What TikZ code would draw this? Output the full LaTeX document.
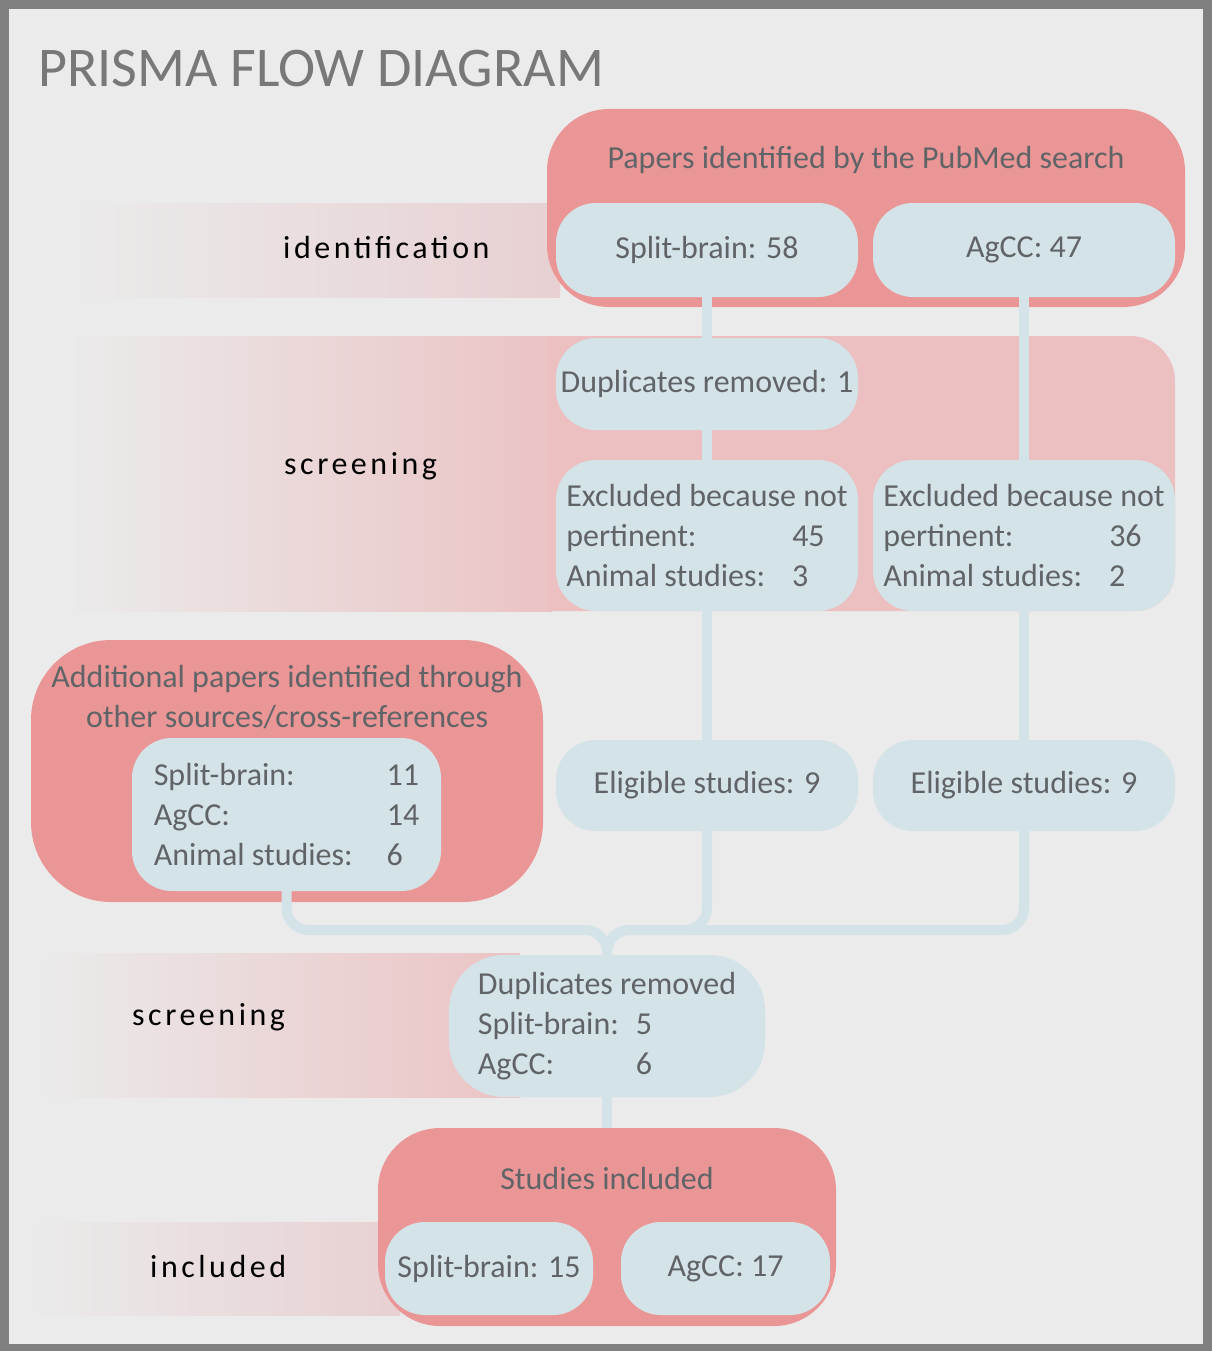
\documentclass[tikz,border=0pt]{standalone}
\usepackage{fontspec}
\setmainfont{Carlito}
\newfontfamily\stagefont[LetterSpace=11]{Carlito}
\definecolor{bgc}{HTML}{EBEBEB}
\definecolor{framec}{HTML}{808080}
\definecolor{redc}{HTML}{EB9696}
\definecolor{bluec}{HTML}{D3E3E8}
\definecolor{bandc}{HTML}{ECC0C1}
\definecolor{fadec}{HTML}{EBC3C4}
\definecolor{fadelt}{HTML}{E8D0D2}
\definecolor{txtc}{HTML}{616467}
\definecolor{titlec}{HTML}{787878}
\newcommand\boxfont{\fontsize{32}{40}\selectfont}
\begin{document}
\begin{tikzpicture}[x=1pt,y=-1pt,
  redbox/.style={fill=redc, rounded corners=62pt, inner sep=0pt},
  bluebox/.style={fill=bluec, rounded corners=40pt, inner sep=0pt, text=txtc, font=\boxfont, align=left},
  redtitle/.style={inner sep=0pt, text=txtc, font=\boxfont, align=center},
  stagelabel/.style={anchor=base west, inner sep=0pt, text=black, font=\fontsize{32}{40}\stagefont},
  conn/.style={draw=bluec, line width=10pt}
]
\useasboundingbox (0,0) rectangle (1212,1351);
\fill[framec] (0,0) rectangle (1212,1351);
\fill[bgc] (9,9) rectangle (1203,1344);

% stage bands
\shade[left color=bgc, right color=fadelt] (70,203) rectangle (560,297);
\shade[left color=bgc, right color=fadec] (70,336) rectangle (552,611);
\fill[bandc] (550,336) -- (1130,336) .. controls (1155,336) and (1175,356) .. (1175,381)
  -- (1175,571) .. controls (1175,593) and (1157,611) .. (1135,611) -- (550,611) -- cycle;
\shade[left color=bgc, right color=fadec] (40,953) rectangle (520,1097);
\shade[left color=bgc, right color=fadelt] (30,1222) rectangle (400,1315);

% containers
\node[redbox, minimum width=638pt, minimum height=198pt] (pubmed) at (866,208) {};
\node[redbox, rounded corners=80pt, minimum width=512pt, minimum height=262pt] (addl) at (287,771) {};
\node[redbox, minimum width=458pt, minimum height=198pt] (incl) at (607,1227) {};

% title
\node[anchor=base west, inner sep=0pt, text=titlec, font=\fontsize{56}{60}\selectfont] (title) at (38,87) {PRISMA FLOW DIAGRAM};

% container titles
\node[redtitle] (pubmedt) at (866,160) {Papers identified by the PubMed search};
\node[redtitle] (addlt) at (287,697) {Additional papers identified through\\other sources/cross-references};
\node[redtitle] (inclt) at (607,1178) {Studies included};

% stage labels
\node[stagelabel] (lid) at (283,258) {identification};
\node[stagelabel] (lscr) at (284,474) {screening};
\node[stagelabel] (lscr2) at (132,1025) {screening};
\node[stagelabel] (linc) at (150,1277) {included};

% boxes
\node[bluebox, minimum width=302pt, minimum height=94pt] (sb58) at (707,250) {Split-brain: 58};
\node[bluebox, minimum width=302pt, minimum height=94pt] (ag47) at (1024,250) {AgCC: 47};
\node[bluebox, minimum width=302pt, minimum height=92pt] (dup1) at (707,384) {Duplicates removed: 1};
\node[bluebox, minimum width=302pt, minimum height=151pt] (ex1) at (707,535.5)
  {Excluded because not\\\makebox[226pt][l]{pertinent:}45\\\makebox[226pt][l]{Animal studies:}3};
\node[bluebox, minimum width=302pt, minimum height=151pt] (ex2) at (1024,535.5)
  {Excluded because not\\\makebox[226pt][l]{pertinent:}36\\\makebox[226pt][l]{Animal studies:}2};
\node[bluebox, minimum width=302pt, minimum height=91pt] (el1) at (707,785.5) {Eligible studies: 9};
\node[bluebox, minimum width=302pt, minimum height=91pt] (el2) at (1024,785.5) {Eligible studies: 9};
\node[bluebox, minimum width=309pt, minimum height=153pt] (addin) at (286.5,814.5)
  {\makebox[233pt][l]{Split-brain:}11\\\makebox[233pt][l]{AgCC:}14\\\makebox[233pt][l]{Animal studies:}6};
\node[bluebox, rounded corners=55pt, minimum width=316pt, minimum height=142pt] (dup2) at (607,1026)
  {Duplicates removed\\\makebox[158pt][l]{Split-brain:}5\\\makebox[158pt][l]{AgCC:}6};
\node[bluebox, minimum width=208pt, minimum height=93pt] (sb15) at (489,1268.5) {Split-brain: 15};
\node[bluebox, minimum width=209pt, minimum height=93pt] (ag17) at (725.5,1268.5) {AgCC: 17};

% connectors
\coordinate (join) at (607,930);
\draw[conn] (sb58.south) -- (dup1.north);
\draw[conn] (ag47.south) -- (ex2.north);
\draw[conn] (dup1.south) -- (ex1.north);
\draw[conn] (ex1.south) -- (el1.north);
\draw[conn] (ex2.south) -- (el2.north);
\draw[conn, rounded corners=22pt] (addin.south) |- (join) -- (dup2.north);
\draw[conn, rounded corners=22pt] (el1.south) |- (join) -- (dup2.north);
\draw[conn, rounded corners=22pt] (el2.south) |- (join) -- (dup2.north);
\draw[conn] (dup2.south) -- (incl.north);
\end{tikzpicture}
\end{document}
